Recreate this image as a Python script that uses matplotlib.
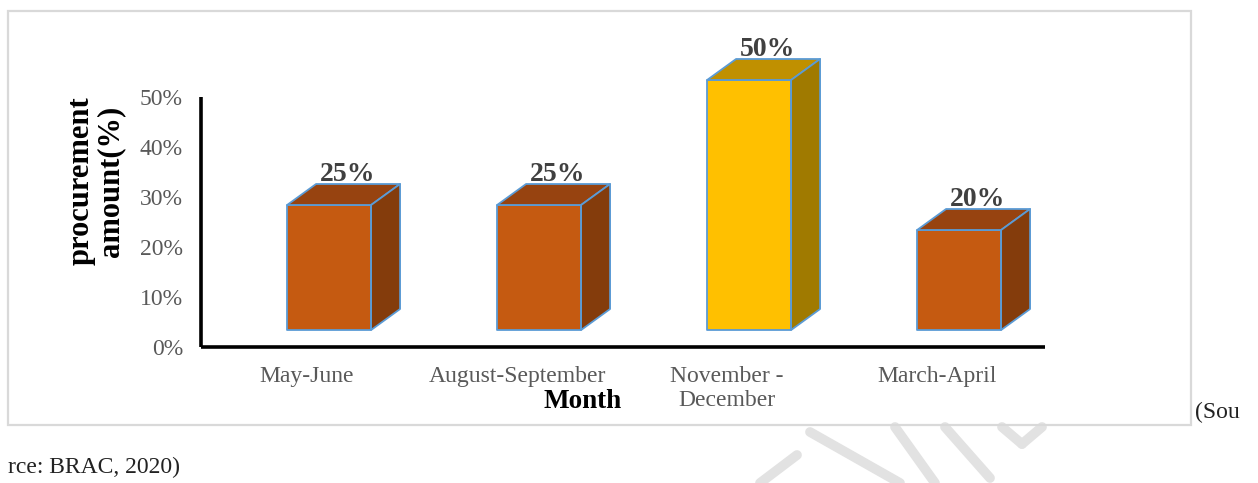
import matplotlib
matplotlib.use("Agg")
import matplotlib.pyplot as plt
from matplotlib.patches import Polygon, Rectangle
from matplotlib.lines import Line2D

categories = ["May-June", "August-September", "November -\nDecember", "March-April"]
values = [0.25, 0.25, 0.50, 0.20]
value_labels = ["25%", "25%", "50%", "20%"]
highlight = [False, False, True, False]
yticks = [0.0, 0.1, 0.2, 0.3, 0.4, 0.5]
ytick_labels = ["0%", "10%", "20%", "30%", "40%", "50%"]

W, H = 1258, 483
plt.rcParams['font.family'] = ['Liberation Serif', 'DejaVu Serif']
fig = plt.figure(figsize=(W / 100, H / 100), dpi=100)
fig.patch.set_facecolor("white")

# outer border
fig.patches.append(Rectangle((8 / W, 1 - 425 / H), (1191 - 8) / W, (425 - 11) / H,
                             transform=fig.transFigure, fill=False,
                             edgecolor="#d9d9d9", linewidth=1.6, zorder=0))

# faint watermark strokes
wm = [((797, 455), (760, 483)), ((810, 432), (900, 483)), ((895, 427), (935, 483)),
      ((945, 427), (990, 478)), ((1002, 427), (1022, 444)), ((1022, 444), (1042, 427))]
for (x0, y0), (x1, y1) in wm:
    fig.add_artist(Line2D([x0 / W, x1 / W], [1 - y0 / H, 1 - y1 / H], transform=fig.transFigure,
                          color="#e2e2e2", linewidth=7, solid_capstyle="round", zorder=0))

ax = fig.add_axes([201 / W, 1 - 347 / H, 844 / W, 250 / H])
ax.set_xlim(-0.505, 3.514)
ax.set_ylim(0, 0.5)
for s in ["top", "right"]:
    ax.spines[s].set_visible(False)
for s in ["left", "bottom"]:
    ax.spines[s].set_linewidth(2.6)
    ax.spines[s].set_color("black")
    ax.spines[s].set_capstyle("butt")

ax.set_yticks(yticks)
ax.set_yticklabels(ytick_labels)
ax.set_xticks(range(len(categories)))
ax.set_xticklabels(categories, linespacing=1.15)
ax.tick_params(axis="y", length=0, pad=13, labelsize=17, labelcolor="#595959")
ax.tick_params(axis="x", length=0, pad=14, labelsize=17, labelcolor="#595959")

base = 0.034
off = -0.095
width = 0.4
dx, dy = 0.138, 0.042
edge = "#5B9BD5"
normal_cols = ("#C55A11", "#974310", "#843C0C")
high_cols = ("#FFC000", "#C09000", "#A07A00")

for i, (v, hl, lab) in enumerate(zip(values, highlight, value_labels)):
    front, top, side = high_cols if hl else normal_cols
    x0 = i + off
    x1 = x0 + width
    y0 = base
    y1 = base + v
    faces = [
        ([(x0, y0), (x1, y0), (x1, y1), (x0, y1)], front),
        ([(x0, y1), (x1, y1), (x1 + dx, y1 + dy), (x0 + dx, y1 + dy)], top),
        ([(x1, y0), (x1 + dx, y0 + dy), (x1 + dx, y1 + dy), (x1, y1)], side),
    ]
    for pts, c in faces:
        ax.add_patch(Polygon(pts, closed=True, facecolor=c, edgecolor=edge,
                             linewidth=1.3, clip_on=False, zorder=3, joinstyle="round"))
    ax.text(x0 + width / 2 + dx * 0.65, y1 + dy + 0.006, lab, ha="center", va="baseline",
            fontsize=20, fontweight="bold", color="#404040", zorder=4, clip_on=False)

fig.text(96 / W, 1 - 181 / H, "procurement\namount(%)", rotation=90, ha="center", va="center",
         multialignment="center", fontsize=22, fontweight="bold", color="black", linespacing=1.05)
fig.text(583 / W, 1 - 402 / H, "Month", ha="center", va="center",
         fontsize=19.5, fontweight="bold", color="black")

fig.text(1195 / W, 1 - 418 / H, "(Sou", ha="left", va="baseline", fontsize=17, color="#222222")
fig.text(8 / W, 1 - 473 / H, "rce: BRAC, 2020)", ha="left", va="baseline", fontsize=17, color="#222222")

fig.savefig("out.png", dpi=100)
